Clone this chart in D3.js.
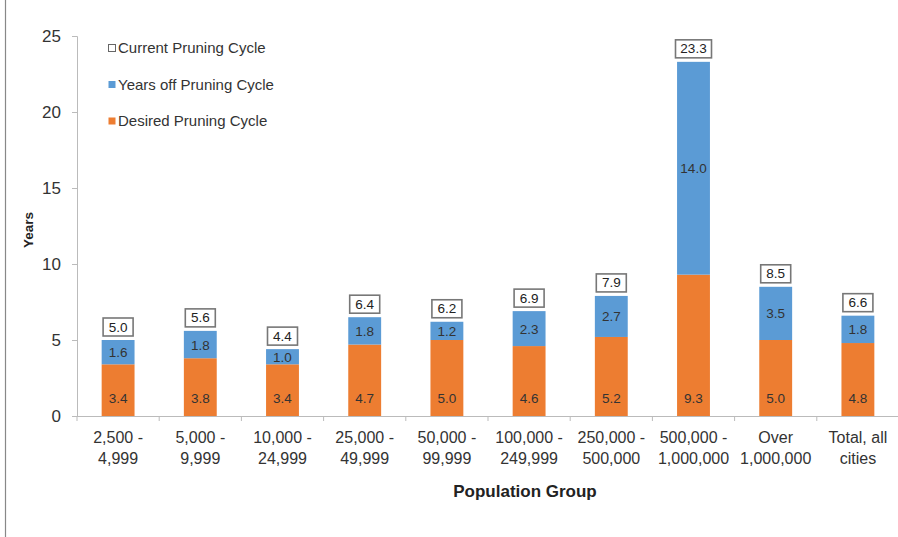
<!DOCTYPE html>
<html>
<head>
<meta charset="utf-8">
<script src="https://cdn.jsdelivr.net/npm/d3@7"></script>
<style>
  body { margin: 0; background: #fff; }
  text { font-family: "Liberation Sans", Arial, sans-serif; }
</style>
</head>
<body>
<svg id="chart" width="898" height="537"></svg>
<script>
// population groups, two lines each
var categories = [
    ["2,500 -", "4,999"], ["5,000 -", "9,999"], ["10,000 -", "24,999"],
    ["25,000 -", "49,999"], ["50,000 -", "99,999"], ["100,000 -", "249,999"],
    ["250,000 -", "500,000"], ["500,000 -", "1,000,000"], ["Over", "1,000,000"],
    ["Total, all", "cities"]
];
var desired = [3.4, 3.8, 3.4, 4.7, 5.0, 4.6, 5.2, 9.3, 5.0, 4.8];
var yearsOff = [1.6, 1.8, 1.0, 1.8, 1.2, 2.3, 2.7, 14.0, 3.5, 1.8];
var current = [5.0, 5.6, 4.4, 6.4, 6.2, 6.9, 7.9, 23.3, 8.5, 6.6];
var yTicks = [0, 5, 10, 15, 20, 25];

var orange = "#ED7D31", blue = "#5B9BD5";

var svg = d3.select("#chart");
var plotLeft = 77, plotRight = 899, plotTop = 36, plotBottom = 416;

// left frame line
svg.append("line")
    .attr("x1", 5.5).attr("x2", 5.5)
    .attr("y1", 0).attr("y2", 537)
    .attr("stroke", "#888").attr("stroke-width", 1.2);

var x = d3.scaleBand()
    .domain(d3.range(categories.length))
    .range([plotLeft, plotRight])
    .paddingInner(0.6).paddingOuter(0.3);
var xTicksScale = d3.scaleBand().domain(d3.range(categories.length)).range([plotLeft, plotRight]);
var y = d3.scaleLinear().domain([0, 25]).range([plotBottom, plotTop]);

// y axis
var yAxis = svg.append("g")
    .attr("transform", "translate(" + plotLeft + ",0)")
    .call(d3.axisLeft(y).tickValues(yTicks).tickSize(5).tickPadding(11));
yAxis.select(".domain").attr("stroke", "#bbb");
yAxis.selectAll(".tick line").attr("stroke", "#bbb");
yAxis.selectAll(".tick text")
    .attr("font-size", 17).attr("fill", "#333")
    .attr("font-family", "Liberation Sans, Arial, sans-serif");

// x axis line with ticks at band edges
svg.append("line")
    .attr("x1", plotLeft).attr("x2", plotRight)
    .attr("y1", plotBottom + 0.5).attr("y2", plotBottom + 0.5)
    .attr("stroke", "#bbb");
svg.selectAll(".xtick")
    .data(d3.range(categories.length + 1)).enter()
    .append("line")
    .attr("x1", function(d) { return plotLeft + d * xTicksScale.bandwidth(); })
    .attr("x2", function(d) { return plotLeft + d * xTicksScale.bandwidth(); })
    .attr("y1", plotBottom).attr("y2", plotBottom + 5)
    .attr("stroke", "#bbb");

// category labels
var catLabels = svg.selectAll(".cat")
    .data(categories).enter()
    .append("text")
    .attr("text-anchor", "middle")
    .attr("font-size", 16).attr("fill", "#333");
catLabels.each(function(d, i) {
    var cx = x(i) + x.bandwidth() / 2;
    d3.select(this).selectAll("tspan")
        .data(d).enter()
        .append("tspan")
        .attr("x", cx)
        .attr("y", function(t, j) { return 443 + j * 20.5; })
        .text(function(t) { return t; });
});

// bars
var bars = svg.selectAll(".bar")
    .data(categories).enter()
    .append("g");
bars.append("rect")
    .attr("x", function(d, i) { return x(i); })
    .attr("width", x.bandwidth())
    .attr("y", function(d, i) { return y(desired[i]); })
    .attr("height", function(d, i) { return y(0) - y(desired[i]); })
    .attr("fill", orange);
bars.append("rect")
    .attr("x", function(d, i) { return x(i); })
    .attr("width", x.bandwidth())
    .attr("y", function(d, i) { return y(desired[i] + yearsOff[i]); })
    .attr("height", function(d, i) { return y(desired[i]) - y(desired[i] + yearsOff[i]); })
    .attr("fill", blue);

// value labels
bars.append("text")
    .attr("x", function(d, i) { return x(i) + x.bandwidth() / 2; })
    .attr("y", 403)
    .attr("text-anchor", "middle")
    .attr("font-size", 13.5).attr("fill", "#333")
    .text(function(d, i) { return desired[i].toFixed(1); });
bars.append("text")
    .attr("x", function(d, i) { return x(i) + x.bandwidth() / 2; })
    .attr("y", function(d, i) { return y(desired[i] + yearsOff[i] / 2) + 5; })
    .attr("text-anchor", "middle")
    .attr("font-size", 13.5).attr("fill", "#333")
    .text(function(d, i) { return yearsOff[i].toFixed(1); });

// boxed totals
var boxH = 18;
var boxW = function(i) { return current[i].toFixed(1).length > 3 ? 36 : 30; };
bars.append("rect")
    .attr("x", function(d, i) { return x(i) + x.bandwidth() / 2 - boxW(i) / 2; })
    .attr("y", function(d, i) { return y(desired[i] + yearsOff[i]) - 4 - boxH; })
    .attr("width", function(d, i) { return boxW(i); }).attr("height", boxH)
    .attr("fill", "#fff").attr("stroke", "#777").attr("stroke-width", 1.6);
bars.append("text")
    .attr("x", function(d, i) { return x(i) + x.bandwidth() / 2; })
    .attr("y", function(d, i) { return y(desired[i] + yearsOff[i]) - 8.5; })
    .attr("text-anchor", "middle")
    .attr("font-size", 13.5).attr("fill", "#222")
    .text(function(d, i) { return current[i].toFixed(1); });

// legend
var legendItems = [
    {label: "Current Pruning Cycle", fill: "#fff", stroke: "#666"},
    {label: "Years off Pruning Cycle", fill: blue, stroke: "none"},
    {label: "Desired Pruning Cycle", fill: orange, stroke: "none"}
];
var legend = svg.selectAll(".legend")
    .data(legendItems).enter()
    .append("g")
    .attr("transform", function(d, i) { return "translate(108," + (48 + i * 36.5) + ")"; });
legend.append("rect")
    .attr("x", 0.5).attr("y", -3.5)
    .attr("width", 7).attr("height", 7)
    .attr("fill", function(d) { return d.fill; })
    .attr("stroke", function(d) { return d.stroke; });
legend.append("text")
    .attr("x", 10).attr("y", 5)
    .attr("font-size", 15).attr("fill", "#333")
    .text(function(d) { return d.label; });

// axis titles
svg.append("text")
    .attr("transform", "translate(33,230) rotate(-90)")
    .attr("text-anchor", "middle")
    .attr("font-size", 13.5).attr("font-weight", "bold").attr("fill", "#222")
    .text("Years");
svg.append("text")
    .attr("x", 525).attr("y", 497)
    .attr("text-anchor", "middle")
    .attr("font-size", 17).attr("font-weight", "bold").attr("fill", "#222")
    .text("Population Group");
</script>
</body>
</html>
